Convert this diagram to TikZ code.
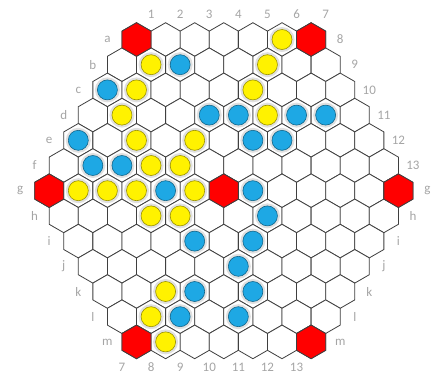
\documentclass[tikz,border=0pt]{standalone}
\usepackage{fontspec}
\setmainfont{Carlito}
\definecolor{hexline}{HTML}{3F3F3F}
\definecolor{marklabel}{HTML}{A5A5A5}
\definecolor{cornerred}{HTML}{FF0000}
\definecolor{stoneyellow}{HTML}{FFF200}
\definecolor{stoneblue}{HTML}{1EA8E4}
\tikzset{
  hexcell/.pic={\path[pic actions] (90:16.8pt) -- (150:16.8pt) -- (210:16.8pt) -- (270:16.8pt) -- (330:16.8pt) -- (30:16.8pt) -- cycle;},
  cellline/.style={draw=hexline, line width=0.8pt},
  stonehalo/.style={fill=black!12},
  yellowstone/.style={fill=stoneyellow, draw=stoneyellow!60!black, line width=0.6pt},
  bluestone/.style={fill=stoneblue, draw=stoneblue!60!black, line width=0.6pt},
  boardlabel/.style={text=marklabel, font=\fontsize{13}{15}\selectfont, inner sep=0pt}
}
\begin{document}
\begin{tikzpicture}[x=1pt, y=-1pt]
  \useasboundingbox (0,0) rectangle (442,376);
  \begin{scope}[shift={(107.4,39.5)}, x={(29.1pt,0pt)}, y={(-14.55pt,-25.2pt)}]
    \foreach \r in {0,...,12}{
      \pgfmathtruncatemacro{\cmin}{max(1,\r-5)}
      \pgfmathtruncatemacro{\cmax}{min(13,\r+7)}
      \foreach \c in {\cmin,...,\cmax}
        \pic[cellline, fill=white] at (\c,\r) {hexcell};
    }
    \foreach \c/\r in {1/0, 7/0, 1/6, 7/6, 13/6, 7/12, 13/12}
      \pic[cellline, fill=cornerred] at (\c,\r) {hexcell};
    \foreach \c/\r in {6/0, 2/1, 6/1, 2/2, 6/2, 2/3, 7/3, 3/4, 5/4, 4/5, 5/5, 2/6, 3/6, 4/6, 6/6, 5/7, 6/7, 7/10, 7/11, 8/12}{
      \fill[stonehalo] (\c,\r) circle[radius=12.5pt];
      \filldraw[yellowstone] (\c,\r) circle[radius=10pt];
    }
    \foreach \c/\r in {3/1, 1/2, 5/3, 6/3, 8/3, 9/3, 1/4, 7/4, 8/4, 2/5, 3/5, 5/6, 8/6, 9/7, 7/8, 9/8, 9/9, 8/10, 10/10, 8/11, 10/11}{
      \fill[stonehalo] (\c,\r) circle[radius=12.5pt];
      \filldraw[bluestone] (\c,\r) circle[radius=10pt];
    }
    \foreach \c in {1,...,7}
      \node[boardlabel] (coltop\c) at (\c,-1) {\c};
    \foreach \c in {8,...,13}
      \node[boardlabel] (colside\c) at (\c,\c-8) {\c};
    \foreach \c in {7,...,13}
      \node[boardlabel] (colbottom\c) at (\c,13) {\c};
    \foreach \r/\lab in {0/a, 1/b, 2/c, 3/d, 4/e, 5/f, 6/g}
      \node[boardlabel] (rowleft\lab) at (0,\r) {\lab};
    \foreach \r/\lab in {7/h, 8/i, 9/j, 10/k, 11/l, 12/m}
      \node[boardlabel] (rowleft\lab) at (\r-6,\r) {\lab};
    \foreach \r/\lab in {6/g, 7/h, 8/i, 9/j, 10/k, 11/l, 12/m}
      \node[boardlabel] (rowright\lab) at (14,\r) {\lab};
  \end{scope}
\end{tikzpicture}
\end{document}
